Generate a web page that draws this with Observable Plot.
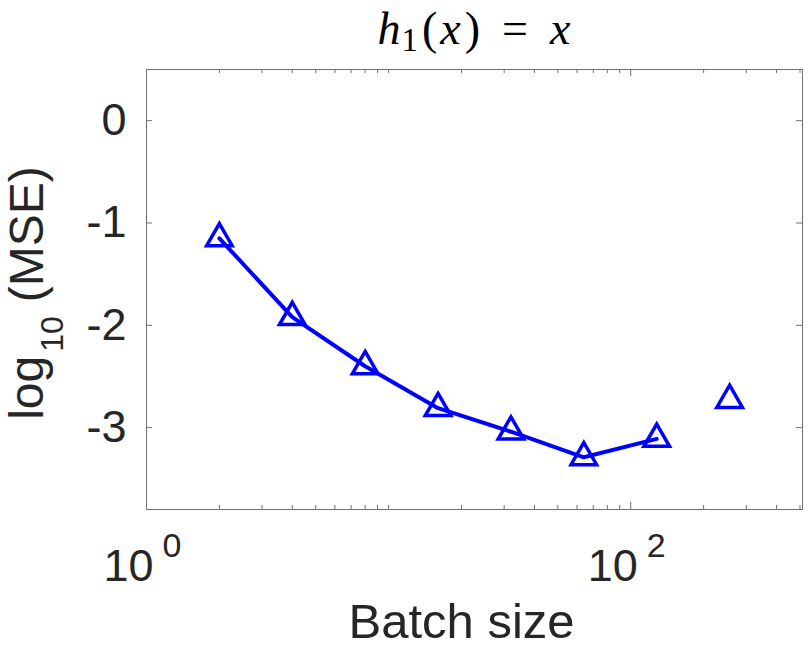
<!DOCTYPE html>
<html>
<head>
<meta charset="utf-8">
<script src="https://cdn.jsdelivr.net/npm/d3@7"></script>
<script src="https://cdn.jsdelivr.net/npm/@observablehq/plot@0.6"></script>
<style>
  html, body { margin: 0; padding: 0; background: #fff; }
  #chart { width: 811px; height: 648px; }
</style>
</head>
<body>
<div id="chart"></div>
<script>
// ---- data ----
const batchSize = [2, 4, 8, 16, 32, 64, 128, 256];
const logMSE = [-1.15, -1.92, -2.40, -2.81, -3.04, -3.29, -3.11, -2.73];
const connectedCount = 7; // last point drawn without a connecting line
const xMajorTicks = [1, 100];
const xMajorExponents = ["0", "2"];
const xMinorTicks = [2, 3, 4, 5, 6, 7, 8, 9, 10, 20, 30, 40, 50, 60, 70, 80, 90, 200, 300, 400, 500];
const yTicks = [0, -1, -2, -3];
const yTickLabels = ["0", "-1", "-2", "-3"];
const xLabel = "Batch size";

const points = batchSize.map((b, i) => ({b, v: logMSE[i], i}));
const linePoints = points.filter(d => d.i < connectedCount);

const W = 811, H = 648;
const mL = 146, mR = 9, mT = 69, mB = 139;
const fw = W - mL - mR, fh = H - mT - mB;
const blue = "#0000ff";
const axisGray = "#707070";
const sans = "'Liberation Sans', Arial, Helvetica, sans-serif";

const xt = xMajorTicks.map((t, i) => ({t, e: xMajorExponents[i]}));
const yt = yTicks.map((t, i) => ({t, s: yTickLabels[i]}));

const svg = Plot.plot({
  width: W, height: H,
  marginLeft: mL, marginRight: mR, marginTop: mT, marginBottom: mB,
  style: {fontFamily: sans, color: "#262626", background: "#fff", overflow: "visible"},
  x: {type: "log", domain: [1, 512], axis: null},
  y: {domain: [-3.8, 0.5], axis: null},
  marks: [
    Plot.frame({stroke: axisGray, strokeWidth: 1}),
    // x ticks, inward, bottom and top
    Plot.ruleX(xMinorTicks, {x: d => d, insetTop: fh - 4, stroke: axisGray}),
    Plot.ruleX(xMinorTicks, {x: d => d, insetBottom: fh - 4, stroke: axisGray}),
    Plot.ruleX(xMajorTicks, {x: d => d, insetTop: fh - 7, stroke: axisGray}),
    Plot.ruleX(xMajorTicks, {x: d => d, insetBottom: fh - 7, stroke: axisGray}),
    // y ticks, inward, left and right
    Plot.ruleY(yTicks, {y: d => d, insetRight: fw - 6, stroke: axisGray}),
    Plot.ruleY(yTicks, {y: d => d, insetLeft: fw - 6, stroke: axisGray}),
    // y tick labels
    Plot.text(yt, {y: "t", text: "s", frameAnchor: "left", dx: -20, textAnchor: "end",
      fontSize: 45, fill: "#262626"}),
    // x tick labels 10^k
    Plot.text(xt, {x: "t", text: () => "10", frameAnchor: "bottom", dy: 71, dx: 7,
      textAnchor: "end", lineAnchor: "bottom", fontSize: 45, fill: "#262626"}),
    Plot.text(xt, {x: "t", text: "e", frameAnchor: "bottom", dy: 47, dx: 16,
      textAnchor: "start", lineAnchor: "bottom", fontSize: 34, fill: "#262626"}),
    // x label
    Plot.text([xLabel], {text: d => d, frameAnchor: "bottom", dy: 128, dx: -13,
      lineAnchor: "bottom", fontSize: 49, fill: "#262626"}),
    // data
    Plot.line(linePoints, {x: "b", y: "v", stroke: blue, strokeWidth: 4}),
    Plot.dot(points, {x: "b", y: "v", symbol: "triangle", r: 9.5, stroke: blue,
      strokeWidth: 3.5, fill: "none"})
  ]
});

const s = d3.select(svg);
// title h_1(x) = x
const title = s.append("text")
  .attr("x", mL + fw / 2)
  .attr("y", 44)
  .attr("text-anchor", "middle")
  .attr("font-family", "'Liberation Serif', 'Times New Roman', serif")
  .attr("font-size", 46)
  .attr("fill", "#000");
title.append("tspan").attr("font-style", "italic").text("h");
title.append("tspan").attr("font-size", 33).attr("dy", 7).attr("dx", 1).text("1");
title.append("tspan").attr("dy", -7).attr("dx", 4).text("(");
title.append("tspan").attr("font-style", "italic").attr("dx", 3).text("x");
title.append("tspan").attr("dx", 4).text(")");
title.append("tspan").attr("dx", 22).text("=");
title.append("tspan").attr("font-style", "italic").attr("dx", 22).text("x");

// y label log_10(MSE)
const yl = s.append("text")
  .attr("transform", `translate(43, ${mT + fh / 2 + 4}) rotate(-90)`)
  .attr("text-anchor", "middle")
  .attr("font-family", sans)
  .attr("font-size", 48)
  .attr("fill", "#262626");
yl.append("tspan").text("log");
yl.append("tspan").attr("font-size", 32).attr("dx", 4).attr("dy", 20).text("10");
yl.append("tspan").attr("dx", 14).attr("dy", -20).text("(MSE)");

document.getElementById("chart").appendChild(svg);
</script>
</body>
</html>
